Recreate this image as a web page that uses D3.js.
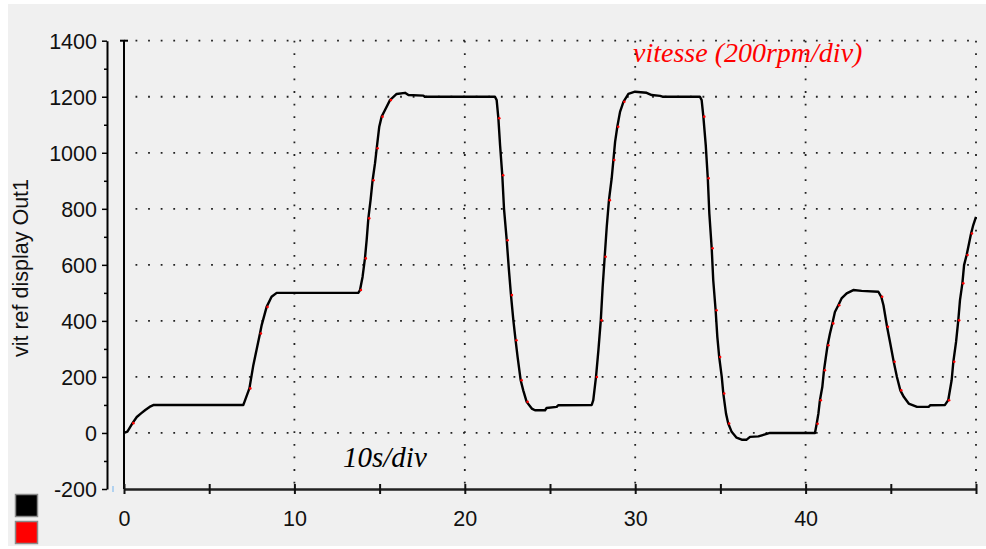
<!DOCTYPE html>
<html>
<head>
<meta charset="utf-8">
<script src="https://cdn.jsdelivr.net/npm/d3@7"></script>
<style>
  html, body { margin: 0; padding: 0; background: #ffffff; }
  svg { display: block; }
</style>
</head>
<body>
<svg id="chart" width="986" height="549"></svg>
<script>
// ---- data ----
const timeS = [0,0.2,0.5,0.75,1.0,1.25,1.5,1.75,7.0,7.07,7.36,7.59,7.98,8.08,8.37,8.66,8.96,
  13.75,13.85,14.0,14.14,14.24,14.34,14.47,14.59,14.73,14.83,14.98,15.12,15.31,15.61,16.0,16.49,16.69,17.57,17.65,
  21.77,21.87,21.97,22.07,22.2,22.3,22.46,22.59,22.71,22.85,22.98,23.1,23.28,23.43,23.63,23.93,24.12,24.71,24.8,25.39,25.48,
  27.45,27.54,27.7,27.84,27.98,28.09,28.21,28.33,28.46,28.62,28.72,28.82,28.95,29.11,29.31,29.6,29.99,30.67,30.97,31.46,31.6,
  33.8,33.9,34.0,34.14,34.26,34.35,34.49,34.58,34.72,34.82,34.93,35.08,35.17,35.33,35.46,35.66,35.95,36.25,36.54,36.74,37.23,37.62,37.91,
  40.55,40.65,40.75,40.84,40.98,41.08,41.19,41.29,41.43,41.57,41.72,41.92,42.11,42.41,42.8,43.29,44.27,
  44.44,44.57,44.78,44.97,45.17,45.36,45.56,45.76,46.05,46.54,47.22,47.32,48.18,
  48.37,48.57,48.67,48.83,48.96,49.06,49.2,49.3,49.45,49.59,49.71,49.84,50.0];
const speed = [0,5,35,57,70,82,93,100,100,111,159,242,355,385,450,486,500,
  500,510,557,623,688,766,831,902,962,1016,1093,1129,1152,1188,1210,1214,1206,1204,1200,
  1200,1188,1123,1027,920,801,688,581,492,402,331,271,188,152,111,87,81,81,89,93,99,
  100,117,200,295,402,521,629,736,831,909,974,1039,1093,1146,1182,1210,1218,1214,1206,1203,1200,
  1200,1188,1129,1027,909,784,659,545,438,343,271,200,141,69,34,4,-17,-24,-24,-14,-12,-5,0,
  0,33,69,117,164,224,271,313,355,391,432,456,480,498,510,507,504,
  486,456,379,319,254,200,152,129,105,93,93,99,100,
  117,188,254,325,402,474,534,599,635,676,712,742,771];
const xTicksMajor = [0,10,20,30,40,50];
const xTickLabels = ["0","10","20","30","40",""];
const xTicksMinor = [5,15,25,35,45];
const yTicksMajor = [-200,0,200,400,600,800,1000,1200,1400];
const yTickLabels = ["-200","0","200","400","600","800","1000","1200","1400"];
const yTicksMinor = [-100,100,300,500,700,900,1100,1300];
const yLabel = "vit ref display Out1";
const noteSpeed = "vitesse (200rpm/div)";
const noteTime = "10s/div";
const legendColors = ["#000000", "#ff0000"];

// ---- drawing ----
const svg = d3.select("#chart");
const x = d3.scaleLinear().domain([0, 50]).range([124, 976]);
const y = d3.scaleLinear().domain([-200, 1400]).range([489, 40.7]);

svg.append("rect").attr("x", 8).attr("y", 4).attr("width", 978).attr("height", 542)
  .attr("fill", "#f0f0f0");

// grid (dotted)
const grid = svg.append("g").attr("stroke", "#222").attr("stroke-width", 1.8)
  .attr("stroke-dasharray", "1.8,10.8").attr("fill", "none");
grid.selectAll("line.h").data(yTicksMajor.filter(d => d > -200)).enter().append("line")
  .attr("x1", x(0)).attr("x2", x(50)).attr("y1", d => y(d)).attr("y2", d => y(d))
  .attr("stroke-dashoffset", -11.5);
grid.selectAll("line.v").data(xTicksMajor.filter(d => d > 0)).enter().append("line")
  .attr("x1", d => x(d)).attr("x2", d => x(d)).attr("y1", y(1400)).attr("y2", y(-200))
  .attr("stroke-dashoffset", 0);

// outer left axis with ticks
const yAxis = d3.axisLeft(y).tickValues(yTicksMajor).tickSize(5).tickSizeOuter(0)
  .tickFormat((d, i) => yTickLabels[i]);
const gy = svg.append("g").attr("transform", "translate(107,0)").call(yAxis);
gy.select(".domain").attr("stroke", "#000").attr("stroke-width", 2);
gy.selectAll(".tick line").attr("stroke", "#000").attr("stroke-width", 1.5);
gy.selectAll(".tick text").attr("x", -10).attr("dy", "0.36em")
  .attr("font-family", "Liberation Sans, Arial, sans-serif").attr("font-size", 21.5).attr("fill", "#111");
const gyMinor = svg.append("g").attr("transform", "translate(107,0)")
  .call(d3.axisLeft(y).tickValues(yTicksMinor).tickSize(3).tickFormat(""));
gyMinor.select(".domain").remove();
gyMinor.selectAll(".tick line").attr("stroke", "#000").attr("stroke-width", 1.5);

// plot left border
svg.append("line").attr("x1", x(0)).attr("x2", x(0)).attr("y1", y(1400)).attr("y2", y(-200))
  .attr("stroke", "#000").attr("stroke-width", 2);
svg.append("line").attr("x1", x(0) - 4).attr("x2", x(0) + 4).attr("y1", y(1400)).attr("y2", y(1400))
  .attr("stroke", "#000").attr("stroke-width", 2);

// bottom axis
const xAxis = d3.axisBottom(x).tickValues(xTicksMajor).tickSize(5).tickSizeOuter(0)
  .tickFormat((d, i) => xTickLabels[i]);
const gx = svg.append("g").attr("transform", `translate(0,${y(-200)})`).call(xAxis);
gx.select(".domain").attr("stroke", "#222").attr("stroke-width", 2.4);
gx.selectAll(".tick line").attr("y1", -5).attr("stroke", "#111").attr("stroke-width", 2);
gx.selectAll(".tick text").attr("y", 22).attr("dy", "0.71em")
  .attr("font-family", "Liberation Sans, Arial, sans-serif").attr("font-size", 21.5).attr("fill", "#111");
const gxMinor = svg.append("g").attr("transform", `translate(0,${y(-200)})`)
  .call(d3.axisBottom(x).tickValues(xTicksMinor).tickSize(5).tickFormat(""));
gxMinor.select(".domain").remove();
gxMinor.selectAll(".tick line").attr("y1", -5).attr("stroke", "#111").attr("stroke-width", 2);

// small blue marker near origin
svg.append("line").attr("x1", 113).attr("x2", 113).attr("y1", y(-200) - 3).attr("y2", y(-200) + 3)
  .attr("stroke", "#9cc8f0").attr("stroke-width", 1.5);

// series
const pts = timeS.map((t, i) => [t, speed[i]]);
const line = d3.line().x(d => x(d[0])).y(d => y(d[1])).curve(d3.curveLinear);
svg.append("path").datum(pts).attr("d", line).attr("fill", "none")
  .attr("stroke", "#000").attr("stroke-width", 2.4).attr("stroke-linejoin", "round");

// reference samples (red), visible only where they peek out
const refPts = pts.filter((d, i) => i > 0 && i < pts.length - 1 &&
  Math.abs(pts[i + 1][1] - pts[i - 1][1]) > 40);
svg.append("g").selectAll("circle").data(refPts.filter((d, i) => i % 2 === 0)).enter().append("circle")
  .attr("cx", d => x(d[0]) + 0.9).attr("cy", d => y(d[1])).attr("r", 1.3).attr("fill", "#ff0000");

// annotations
svg.append("text").attr("x", 633).attr("y", 62).text(noteSpeed)
  .attr("font-family", "Liberation Serif, serif").attr("font-style", "italic")
  .attr("font-size", 28).attr("fill", "#ff0000");
svg.append("text").attr("x", 343).attr("y", 467).text(noteTime)
  .attr("font-family", "Liberation Serif, serif").attr("font-style", "italic")
  .attr("font-size", 29).attr("fill", "#000");

// y label
svg.append("text").attr("transform", "translate(28,268) rotate(-90)").attr("text-anchor", "middle")
  .text(yLabel).attr("font-family", "Liberation Sans, Arial, sans-serif").attr("font-size", 21.5)
  .attr("fill", "#111");

// legend squares
svg.append("g").selectAll("rect").data(legendColors).enter().append("rect")
  .attr("x", 15.5).attr("y", (d, i) => 494.5 + i * 27).attr("width", 22).attr("height", 22)
  .attr("fill", d => d).attr("stroke", "#8a8a8a").attr("stroke-width", 1.5);
</script>
</body>
</html>
